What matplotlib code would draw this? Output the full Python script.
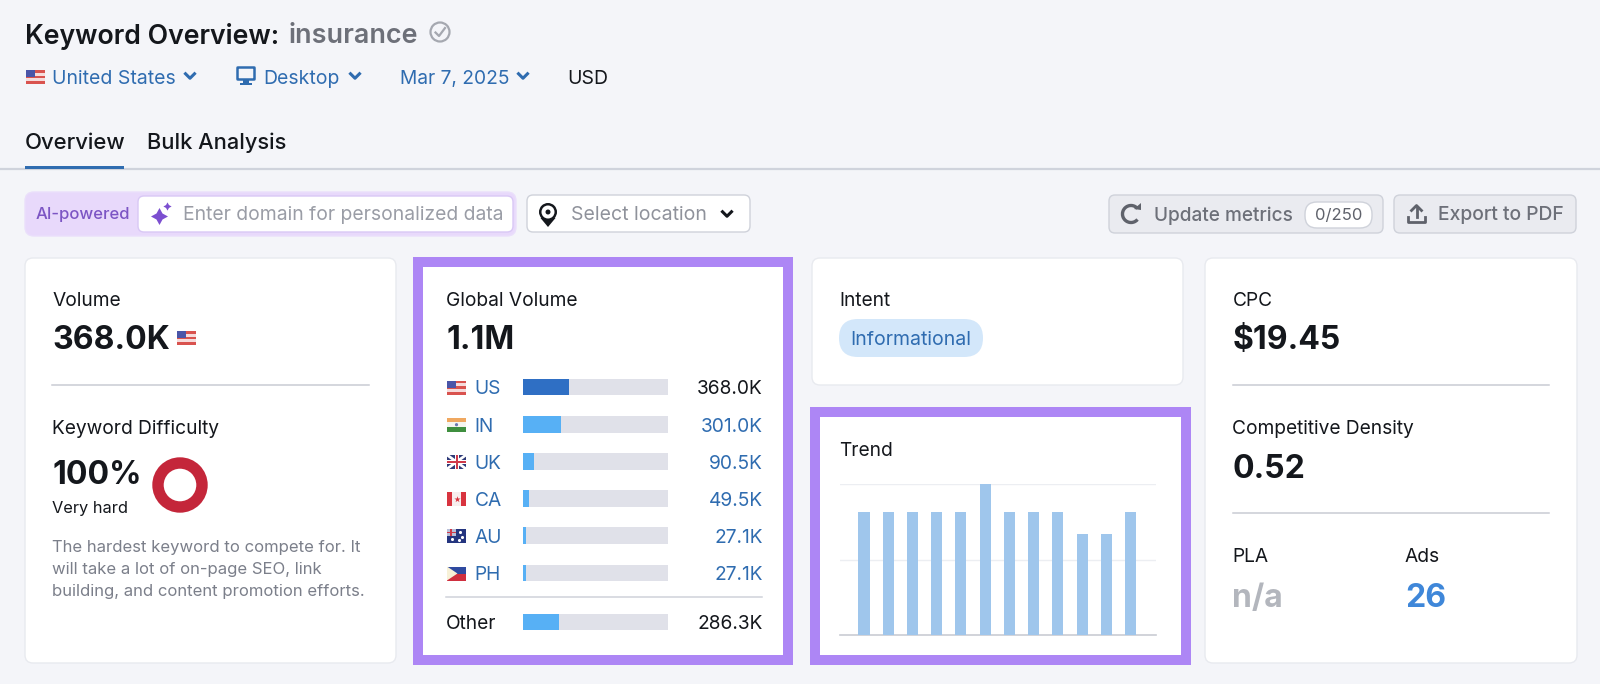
import matplotlib
matplotlib.use("Agg")
import matplotlib.pyplot as plt
from matplotlib.patches import FancyBboxPatch, Rectangle, Circle, Arc, Polygon

plt.rcParams['font.family'] = ['Inter', 'DejaVu Sans']

# values
countries = ['US', 'IN', 'UK', 'CA', 'AU', 'PH']
country_volume = [368.0, 301.0, 90.5, 49.5, 27.1, 27.1]
country_labels = ['368.0K', '301.0K', '90.5K', '49.5K', '27.1K', '27.1K']
other_volume = 286.3
other_label = '286.3K'
trend_volume = [368, 368, 368, 368, 368, 450, 368, 368, 368, 301, 301, 368]

W, H = 1600, 684
BG = '#f4f5f9'
PURPLE = '#ad86f5'
INK = '#14171c'
BLUE = '#2f6cb0'
GREY = '#7b7f8a'
TRACK = '#e0e1e9'
LABEL = 13.8
BIG = 23

fig = plt.figure(figsize=(16, 6.84), dpi=100, facecolor=BG)
page = fig.add_axes([0, 0, 1, 1])
page.set_xlim(0, W)
page.set_ylim(H, 0)
page.axis('off')


def txt(x, y, s, size=LABEL, color=INK, weight='normal', ha='left'):
    page.text(x, y, s, fontsize=size, color=color, fontweight=weight, ha=ha, va='center_baseline')


def box(x0, y0, x1, y1, face='white', edge='#e8eaef', r=8, lw=1, z=1):
    page.add_patch(FancyBboxPatch((x0 + r, y0 + r), x1 - x0 - 2 * r, y1 - y0 - 2 * r,
                                  boxstyle='round,pad=%d' % r, fc=face, ec=edge, lw=lw, zorder=z))


def chevron(x, y, color=BLUE, s=4.5):
    page.plot([x - s, x, x + s], [y - s * 0.5, y + s * 0.5, y - s * 0.5], color=color, lw=2.2, zorder=3)


def rect(x, y, w, h, c, z=3):
    page.add_patch(Rectangle((x, y), w, h, fc=c, ec='none', zorder=z))


def flag(code, x, y, w=19, h=14):
    # x, y = top left corner
    if code == 'US':
        for i in range(5):
            rect(x, y + i * h / 5, w, h / 5, '#d9534f' if i % 2 == 0 else '#f6dcdc')
        rect(x, y, w * 0.45, h * 0.5, '#4a55a8', 4)
    elif code == 'IN':
        rect(x, y, w, h / 3, '#f0a860')
        rect(x, y + h / 3, w, h / 3, '#f5f5f0')
        rect(x, y + 2 * h / 3, w, h / 3, '#3f8f3f')
        page.add_patch(Circle((x + w / 2, y + h / 2), 1.6, fc='#6a78b0', ec='none', zorder=4))
    elif code == 'UK':
        rect(x, y, w, h, '#2e3a78')
        page.plot([x, x + w], [y, y + h], color='white', lw=2, zorder=4)
        page.plot([x, x + w], [y + h, y], color='white', lw=2, zorder=4)
        rect(x + w / 2 - 2, y, 4, h, 'white', 4)
        rect(x, y + h / 2 - 2, w, 4, 'white', 4)
        rect(x + w / 2 - 1, y, 2, h, '#cf3a4a', 5)
        rect(x, y + h / 2 - 1, w, 2, '#cf3a4a', 5)
    elif code == 'CA':
        rect(x, y, w, h, '#f7eeee')
        rect(x, y, w * 0.25, h, '#d8343f', 4)
        rect(x + w * 0.75, y, w * 0.25, h, '#d8343f', 4)
        page.scatter([x + w / 2], [y + h / 2], s=22, marker='*', color='#d8343f', linewidths=0, zorder=4)
    elif code == 'AU':
        rect(x, y, w, h, '#24357f')
        rect(x, y, w * 0.45, h * 0.5, '#b9bfd8', 4)
        rect(x, y + h * 0.2, w * 0.45, h * 0.1, '#cf3a4a', 5)
        rect(x + w * 0.18, y, w * 0.1, h * 0.5, '#cf3a4a', 5)
        page.scatter([x + 5, x + 13, x + 15, x + 12], [y + 10, y + 3, y + 8, y + 11], s=5, color='white',
                     linewidths=0, zorder=5)
    elif code == 'PH':
        rect(x, y, w, h / 2, '#2f4aa0')
        rect(x, y + h / 2, w, h / 2, '#cf2f3f')
        page.add_patch(Polygon([(x, y), (x + w * 0.55, y + h / 2), (x, y + h)], fc='#f7f1d8', ec='none', zorder=4))


# page header
txt(25, 33, 'Keyword Overview:', 19.2, INK, 'semibold')
txt(289, 33, 'insurance', 19.4, '#6d7079', 'semibold')
page.add_patch(Circle((440, 32), 9.5, fc='none', ec='#a5a8b0', lw=1.6))
page.plot([435.5, 439, 445], [32.5, 36, 28], color='#a5a8b0', lw=1.6)

flag('US', 26, 70)
txt(52.5, 77, 'United States', 14, BLUE)
chevron(190, 76)
page.add_patch(FancyBboxPatch((238, 68), 16, 11, boxstyle='round,pad=0.5', fc='none', ec=BLUE, lw=1.8))
rect(243, 80, 6, 3, BLUE)
rect(240, 83, 12, 2, BLUE)
txt(263, 77, 'Desktop', 14, BLUE)
chevron(355, 76)
txt(399.5, 77, 'Mar 7, 2025', 13.8, BLUE)
chevron(523, 76)
txt(567, 77, 'USD', 14, INK)

txt(25, 141, 'Overview', 15.9, INK, 'medium')
txt(147, 141, 'Bulk Analysis', 15.7, INK, 'medium')
page.plot([0, W], [169, 169], color='#cfd3dc', lw=1.6)
rect(25, 166, 99, 3.2, BLUE, 4)

# toolbar
box(25, 192, 516, 236, '#e8d9fb', '#eadffb', r=9)
box(138, 196, 513, 232, 'white', '#d9c8f5', r=6, z=2)
txt(36, 213, 'AI-powered', 12, '#7c55c4', 'medium')
page.scatter([159], [216], s=150, marker=(4, 1, 0), color='#7c4fd0', linewidths=0, zorder=3)
page.scatter([167], [206], s=35, marker=(4, 1, 0), color='#7c4fd0', linewidths=0, zorder=3)
txt(183, 213.5, 'Enter domain for personalized data', 13.9, '#9a9da6')
box(527, 195, 750, 232, 'white', '#cfd2da', r=6)
page.add_patch(Polygon([(540.5, 218), (555.5, 218), (548, 227)], fc=INK, ec='none', zorder=3))
page.add_patch(Circle((548, 212), 9, fc=INK, ec='none', zorder=3))
page.add_patch(Circle((548, 212), 6.5, fc='white', ec='none', zorder=4))
page.add_patch(Circle((548, 212), 2.5, fc=INK, ec='none', zorder=5))
txt(571, 213, 'Select location', 14, '#8f929b')
chevron(727, 214, INK)

box(1109, 195, 1383, 233, '#eaebf0', '#cfd2da', r=6)
page.add_patch(Arc((1131, 214), 17, 17, theta1=40, theta2=320, ec='#5f626b', lw=2.4, zorder=3))
page.add_patch(Polygon([(1134, 209), (1141, 203), (1141, 210)], fc='#5f626b', ec='none', zorder=3))
txt(1153.5, 213.5, 'Update metrics', 13.7, '#6d7079', 'medium')
box(1305, 202, 1372, 228, 'white', '#cfd2da', r=12, z=2)
txt(1338.5, 214.5, '0/250', 12, '#5f626b', ha='center')
box(1394, 195, 1576, 233, '#eaebf0', '#cfd2da', r=6)
page.plot([1408, 1408, 1425, 1425], [217, 222, 222, 217], color='#5f626b', lw=2, zorder=3)
page.plot([1416.5, 1416.5], [217, 207], color='#5f626b', lw=2, zorder=3)
page.plot([1411.5, 1416.5, 1421.5], [210.5, 205.5, 210.5], color='#5f626b', lw=2, zorder=3)
txt(1438, 213.5, 'Export to PDF', 13.9, '#6d7079', 'medium')

# cards
box(25, 258, 396, 663)
box(812, 258, 1183, 385)
box(1205, 258, 1577, 663)
rect(413, 257, 380, 408, PURPLE, 1)
rect(423, 267, 360, 388, 'white', 2)
rect(810, 407, 381, 258, PURPLE, 1)
rect(820, 417, 361, 238, 'white', 2)

# volume card
txt(52.5, 299, 'Volume')
txt(52.5, 337, '368.0K', BIG, INK, 'bold')
flag('US', 177, 331)
page.plot([52, 369], [385, 385], color='#c9ccd3', lw=1.1, zorder=3)
txt(52.5, 427, 'Keyword Difficulty')
txt(52.5, 472, '100%', BIG, INK, 'bold')
txt(52.5, 507, 'Very hard', 11.8)
page.add_patch(Circle((180, 485), 22, fc='none', ec='#c4263a', lw=8.2, zorder=3))
txt(52.5, 546, 'The hardest keyword to compete for. It', 12, GREY)
txt(52.5, 568, 'will take a lot of on-page SEO, link', 12, GREY)
txt(52.5, 590, 'building, and content promotion efforts.', 12, GREY)

# global volume card
txt(446, 299, 'Global Volume')
txt(446, 337, '1.1M', BIG, INK, 'bold')
total = sum(country_volume) + other_volume
for i, (c, lab) in enumerate(zip(countries, country_labels)):
    y = 387.5 + i * 37.2
    flag(c, 447, y - 7)
    txt(474.5, y, c, LABEL, BLUE)
    txt(762.5, y, lab, LABEL, INK if i == 0 else BLUE, ha='right')
page.plot([446, 762], [597, 597], color='#cfd2da', lw=1.1, zorder=3)
txt(446, 622, 'Other')
txt(762.5, 622, other_label, ha='right')


def px_axes(x0, y0, x1, y1):
    ax = fig.add_axes([x0 / W, 1 - y1 / H, (x1 - x0) / W, (y1 - y0) / H])
    ax.patch.set_alpha(0)
    return ax


ax_c = px_axes(523, 368.4, 668, 591.6)
rows = list(range(len(countries)))
ax_c.barh(rows, [total] * len(rows), height=0.45, color=TRACK)
ax_c.barh(rows, country_volume, height=0.45,
          color=['#2f6fc4'] + ['#57b0f5'] * (len(rows) - 1))
ax_c.set_xlim(0, total)
ax_c.set_ylim(len(rows) - 0.5, -0.5)
ax_c.axis('off')

ax_o = px_axes(523, 603.4, 668, 640.6)
ax_o.barh([0], [total], height=0.45, color=TRACK)
ax_o.barh([0], [other_volume], height=0.45, color='#57b0f5')
ax_o.set_xlim(0, total)
ax_o.set_ylim(0.5, -0.5)
ax_o.axis('off')

# intent + trend
txt(839.5, 299, 'Intent')
box(839, 319, 983, 357, '#d3e7fa', 'none', r=19)
txt(911, 338, 'Informational', 14, BLUE, ha='center')
txt(839.5, 449, 'Trend')

ax_t = px_axes(840, 484, 1156, 635)
months = list(range(len(trend_volume)))
ax_t.bar(months, trend_volume, width=0.455, color='#9fc6ec', zorder=3)
ax_t.set_xlim(-0.99, 12.05)
ax_t.set_ylim(0, max(trend_volume))
ax_t.set_yticks([max(trend_volume) / 2, max(trend_volume)])
ax_t.set_xticks([])
ax_t.tick_params(left=False, labelleft=False)
ax_t.grid(axis='y', color='#eceef2', lw=1, zorder=0)
for s in ['top', 'left', 'right']:
    ax_t.spines[s].set_visible(False)
ax_t.spines['bottom'].set_color('#c9ccd3')
ax_t.spines['bottom'].set_linewidth(1.2)

# cpc card
txt(1232.5, 299, 'CPC')
txt(1232.5, 337, '$19.45', BIG, INK, 'bold')
page.plot([1233, 1549], [385, 385], color='#c9ccd3', lw=1.1, zorder=3)
txt(1232.5, 427, 'Competitive Density')
txt(1232.5, 466, '0.52', BIG, INK, 'bold')
page.plot([1233, 1549], [513, 513], color='#c9ccd3', lw=1.1, zorder=3)
txt(1232.5, 555, 'PLA')
txt(1405, 555, 'Ads')
txt(1232.5, 595, 'n/a', BIG, '#b3b6bd', 'bold')
txt(1405, 595, '26', BIG, '#3f87d9', 'bold')

fig.savefig('out.png', dpi=100, facecolor=BG)
